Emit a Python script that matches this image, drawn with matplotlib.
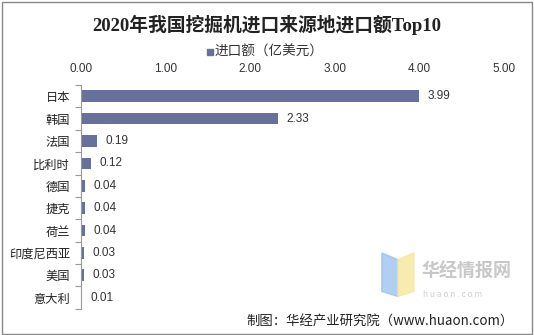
import matplotlib.pyplot as plt
from matplotlib.patches import Rectangle, Polygon

plt.rcParams['font.family'] = ['Noto Sans CJK SC', 'DejaVu Sans']

# 2020年挖掘机进口来源地（亿美元）
countries = ['日本', '韩国', '法国', '比利时', '德国', '捷克', '荷兰', '印度尼西亚', '美国', '意大利']
values = [3.99, 2.33, 0.19, 0.12, 0.04, 0.04, 0.04, 0.03, 0.03, 0.01]
xticks = [0, 1, 2, 3, 4, 5]
bar_color = '#67719a'

fig = plt.figure(figsize=(5.34, 3.35), dpi=100)
ax = fig.add_axes([0.152, 0.078, 0.792, 0.668])

pos = list(range(len(countries)))
ax.barh(pos, values, height=0.52, color=bar_color, label='进口额（亿美元）')
ax.set_ylim(len(countries) - 0.5, -0.5)
ax.set_xlim(0, 5)

for p, v in zip(pos, values):
    ax.text(v + 0.1, p, f'{v:.2f}', va='center', ha='left', fontsize=8.5,
            family=['Liberation Sans', 'DejaVu Sans'], color='#333333')

ax.xaxis.tick_top()
ax.set_xticks(xticks)
ax.set_xticklabels([f'{t:.2f}' for t in xticks], fontsize=8.5,
                   family=['Liberation Sans', 'DejaVu Sans'], color='#333333')
ax.tick_params(axis='x', length=0, pad=7)

# 分类刻度放在类别之间
ax.set_yticks([p + 0.5 for p in [-1] + pos], minor=True)
ax.set_yticks(pos)
ax.set_yticklabels(countries, fontsize=8.8, color='#222222')
ax.tick_params(axis='y', which='major', length=0, pad=8)
ax.tick_params(axis='y', which='minor', length=4, color='#999999', width=0.8)

for s in ['top', 'right', 'bottom']:
    ax.spines[s].set_visible(False)
ax.spines['left'].set_color('#999999')
ax.spines['left'].set_linewidth(0.8)

fig.text(0.5, 0.925, '2020年我国挖掘机进口来源地进口额Top10', ha='center', va='center',
         fontsize=13.5, fontweight='bold', family=['Liberation Serif', 'Noto Sans CJK SC'],
         color='#222222')

# 图例
fig.patches.append(Rectangle((0.388, 0.836), 0.011, 0.018, transform=fig.transFigure,
                             color=bar_color))
fig.text(0.402, 0.846, '进口额（亿美元）', ha='left', va='center', fontsize=9.8, color='#333333')

# 水印
fig.patches.append(Polygon([(0.715, 0.245), (0.745, 0.225), (0.745, 0.115), (0.715, 0.13)],
                           closed=True, transform=fig.transFigure, color='#9ec2f0', alpha=0.8))
fig.patches.append(Polygon([(0.745, 0.225), (0.775, 0.245), (0.775, 0.13), (0.745, 0.115)],
                           closed=True, transform=fig.transFigure, color='#f7e79a', alpha=0.8))
fig.text(0.79, 0.19, '华经情报网', fontsize=13, fontweight='bold', color='#c8c8c8', va='center')
fig.text(0.792, 0.12, 'h u a o n . c o m', fontsize=6, color='#d0d0d0', va='center')

fig.text(0.962, 0.04, '制图：华经产业研究院（www.huaon.com）', ha='right', va='center',
         fontsize=9.6, color='#222222')

# 外框
fig.patches.append(Rectangle((0.003, 0.004), 0.993, 0.99, transform=fig.transFigure,
                             fill=False, edgecolor='#888888', linewidth=1))

fig.savefig('out.png', dpi=100)
